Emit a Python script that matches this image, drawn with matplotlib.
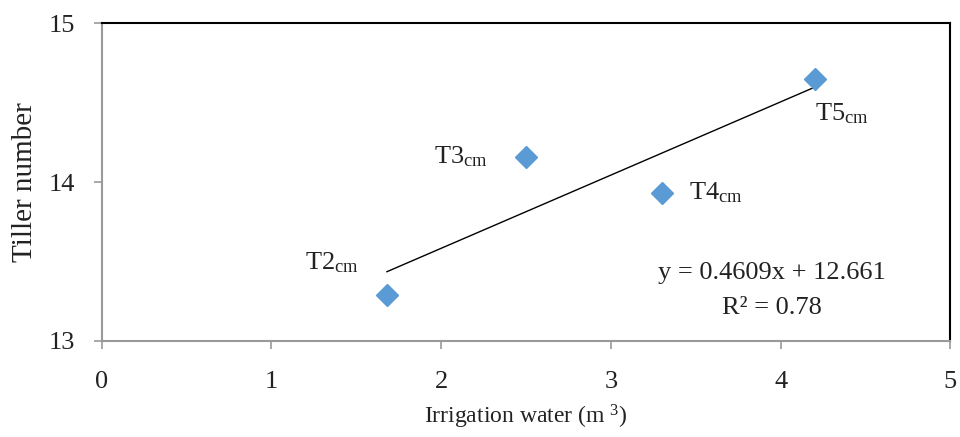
import matplotlib
matplotlib.use("Agg")
import matplotlib.pyplot as plt
import numpy as np

plt.rcParams['font.family'] = ['Liberation Serif', 'DejaVu Serif']
plt.rcParams['mathtext.fontset'] = 'custom'
plt.rcParams['mathtext.rm'] = 'Liberation Serif'
plt.rcParams['mathtext.it'] = 'Liberation Serif:italic'

labels = ["T2", "T3", "T4", "T5"]
water = [1.68, 2.5, 3.3, 4.2]
tillers = [13.29, 14.16, 13.93, 14.65]
slope, intercept = 0.4609, 12.661
xticks = [0, 1, 2, 3, 4, 5]
yticks = [13, 14, 15]

fig = plt.figure(figsize=(9.6, 4.37), dpi=100)
ax = fig.add_axes([0.106, 0.220, 0.884, 0.727])

ax.plot(water, tillers, linestyle='none', marker='D', markersize=11,
        color='#5B9BD5', zorder=3)
xl = np.array([min(water), max(water)])
ax.plot(xl, slope * xl + intercept, color='black', linewidth=1.0, zorder=2)

offsets = {"T2": (-0.48, 0.20), "T3": (-0.54, 0.0), "T4": (0.16, 0.0), "T5": (0.0, -0.22)}
for lab, x, y in zip(labels, water, tillers):
    dx, dy = offsets[lab]
    ax.text(x + dx, y + dy, lab + r"$_{\mathrm{cm}}$", fontsize=19,
            ha='left', va='center', color='#222222')

ax.text(3.95, 13.43, "y = 0.4609x + 12.661", fontsize=19, ha='center', va='center', color='#222222')
ax.text(3.95, 13.21, "R² = 0.78", fontsize=19, ha='center', va='center', color='#222222')

ax.set_xlim(0, 5)
ax.set_ylim(13, 15)
ax.set_xticks(xticks)
ax.set_yticks(yticks)
ax.tick_params(axis='both', labelsize=19, direction='out', length=6, width=1.2,
               color='#999999', labelcolor='#222222')
ax.tick_params(axis='x', pad=16)
ax.tick_params(axis='y', pad=13)

for s in ['left', 'bottom']:
    ax.spines[s].set_color('#999999')
    ax.spines[s].set_linewidth(1.5)
for s in ['top', 'right']:
    ax.spines[s].set_color('black')
    ax.spines[s].set_linewidth(1.5)

ax.set_xlabel("Irrigation water (m $^{3}$)", fontsize=17, color='#222222', labelpad=7)
ax.set_ylabel("Tiller number", fontsize=21, color='#222222', labelpad=8)

fig.savefig("out.png", dpi=100)
